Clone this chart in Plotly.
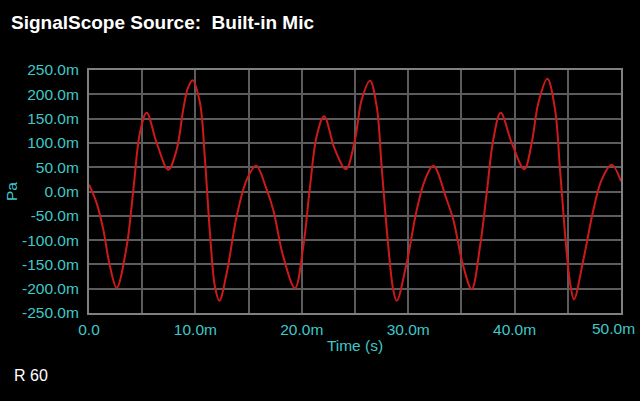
import plotly.graph_objects as go

# time in ms, pressure in mPa
t_ms = [0.0, 0.72, 1.35, 1.97, 2.6, 3.54, 4.17, 4.79, 5.42, 6.36, 7.45, 8.24, 8.86, 9.3, 9.74,
        10.43, 10.9, 11.37, 11.84, 12.25, 12.94, 13.88, 14.82, 15.7, 16.7, 17.32, 18.26, 19.36,
        20.14, 20.77, 21.4, 22.09, 23.12, 24.15, 25.0, 25.63, 26.41, 27.04, 27.5, 28.13, 28.6,
        28.92, 29.86, 30.8, 31.58, 32.36, 33.62, 34.24, 35.18, 35.97, 36.75, 37.38, 38.0, 38.69,
        39.73, 40.91, 41.61, 42.23, 43.08, 43.8, 44.27, 44.9, 45.27, 45.58, 46.46, 47.4, 48.18,
        49.12, 50.0]
pa_m = [14, -24, -79, -154, -198, -113, 4, 121, 162, 100, 45, 86, 169, 213, 229,
        182, 65, -86, -196, -225, -168, -51, 24, 53, 4, -38, -134, -199,
        -113, 10, 114, 155, 86, 46, 107, 189, 228, 175, 52, -113, -203,
        -225, -147, -38, 24, 53, -17, -58, -154, -201, -113, -3, 107, 162,
        100, 46, 100, 182, 232, 169, 45, -127, -196, -222, -141, -38, 24,
        55, 21]

x_ticks = [0, 5, 10, 15, 20, 25, 30, 35, 40, 45, 50]
x_labels = ['0.0', '', '10.0m', '', '20.0m', '', '30.0m', '', '40.0m', '', '']
last_x_label = '50.0m'  # drawn separately, right-aligned to the page edge like the original
y_ticks = [250, 200, 150, 100, 50, 0, -50, -100, -150, -200, -250]
y_labels = [f'{v:.1f}m' for v in y_ticks]

cyan = '#3fc8c8'
fnt = 'Liberation Sans, Arial, sans-serif'

fig = go.Figure()
fig.add_trace(go.Scatter(x=t_ms, y=pa_m, mode='lines', line_shape='spline',
                         line=dict(color='#cc1a1a', width=2), showlegend=False))

fig.update_layout(
    width=640, height=401,
    margin=dict(l=89, r=19, t=70, b=88),
    plot_bgcolor='black', paper_bgcolor='black',
    font=dict(family=fnt, color=cyan, size=15.5),
    title=dict(text='<b>SignalScope Source:\u00a0 Built-in Mic</b>', x=11 / 640, xanchor='left',
               y=1 - 22 / 401, yanchor='middle', font=dict(size=19, color='white', family=fnt)),
    xaxis=dict(range=[0, 50], tickvals=x_ticks, ticktext=x_labels, showgrid=True,
               gridcolor='#5c5c5c', gridwidth=1.5, zeroline=False, showline=True,
               linecolor='#808080', linewidth=2, mirror=True, ticks='', ticklabelstandoff=1,
               automargin=False,
               title=dict(text='Time (s)', standoff=4, font=dict(size=15.5, color=cyan))),
    yaxis=dict(range=[-250, 250], tickvals=y_ticks, ticktext=y_labels, showgrid=True,
               gridcolor='#5c5c5c', gridwidth=1.5, zeroline=False, showline=True,
               linecolor='#808080', linewidth=2, mirror=True, ticks='', ticklabelstandoff=5,
               automargin=False,
               title=dict(text='Pa', standoff=1, font=dict(size=15.5, color=cyan))),
)

# positions below are relative to the plot area (89..621 x, 70..313 y)
fig.add_annotation(text=last_x_label, x=(637 - 89) / 532, y=(313 - 328) / 243,
                   xref='paper', yref='paper', xanchor='right', yanchor='middle',
                   showarrow=False, font=dict(size=15.5, color=cyan, family=fnt))
fig.add_annotation(text='R 60', x=(12 - 89) / 532, y=(313 - 375) / 243, xref='paper', yref='paper',
                   xanchor='left', yanchor='middle', showarrow=False,
                   font=dict(size=16, color='white', family=fnt))

fig.write_html("out.html", config={'displayModeBar': False},
               post_script="document.body.style.margin='0';")
